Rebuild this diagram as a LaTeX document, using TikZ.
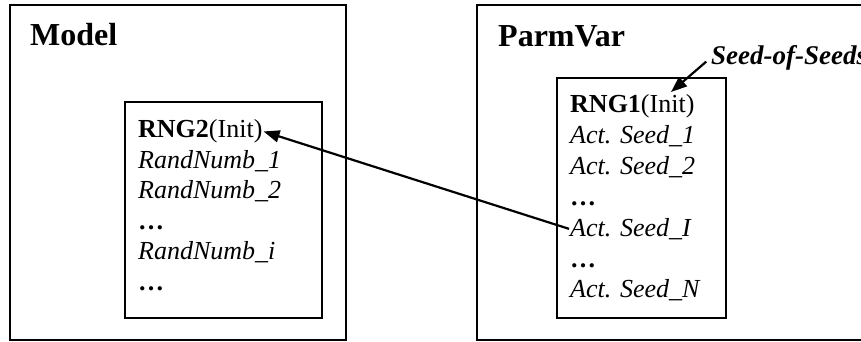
\documentclass[tikz,border=0pt]{standalone}
\usepackage{fontspec}
\setmainfont{Liberation Serif}
\usetikzlibrary{arrows.meta, positioning}

\begin{document}
\begin{tikzpicture}[x=1pt, y=-1pt,
    block/.style={draw, line width=2.2pt, minimum width=#1, inner sep=0pt},
    title/.style={anchor=base west, inner sep=0pt, font=\fontsize{32}{38}\selectfont\bfseries},
    entry/.style={anchor=base west, inner sep=1pt, font=\fontsize{26}{31}\selectfont},
    link/.style={-{Triangle[length=16pt, width=12pt]}, line width=2.2pt}
]
    \useasboundingbox (0,0) rectangle (861,342);

    % outer blocks
    \node[block=336pt, minimum height=335pt] (model) at (178,172.5) {};
    \node[block=408pt, minimum height=335pt] (parmvar) at (681,172.5) {};
    \node[title] (modeltitle) at (30,46) {Model};
    \node[title] (parmtitle) at (498,47) {ParmVar};

    % inner blocks
    \node[block=197pt, minimum height=216pt] (rng2box) at (223.5,210) {};
    \node[block=169pt, minimum height=240pt] (rng1box) at (641.5,198) {};

    % RNG2 entries
    \node[entry] (rng2) at (137,137.7) {\textbf{RNG2}(Init)};
    \node[entry] (rand1) at (137,168.2) {\textit{RandNumb\_1}};
    \node[entry] (rand2) at (137,198.7) {\textit{RandNumb\_2}};
    \node[entry] (rdots1) at (137,229.2) {\textbf{…}};
    \node[entry] (randi) at (137,259.7) {\textit{RandNumb\_i}};
    \node[entry] (rdots2) at (137,290.2) {\textbf{…}};

    % RNG1 entries
    \node[entry] (rng1) at (569,113) {\textbf{RNG1}(Init)};
    \node[entry] (seed1) at (569,143.8) {\textit{Act. Seed\_1}};
    \node[entry] (seed2) at (569,174.6) {\textit{Act. Seed\_2}};
    \node[entry] (sdots1) at (569,205.4) {\textbf{…}};
    \node[entry] (seedI) at (569,236.2) {\textit{Act. Seed\_I}};
    \node[entry] (sdots2) at (569,267) {\textbf{…}};
    \node[entry] (seedN) at (569,297.8) {\textit{Act. Seed\_N}};

    \node[entry, font=\fontsize{27}{32}\selectfont] (seeds) at (710,65) {\textbf{\textit{Seed-of-Seeds}}};
    \coordinate (seedtip) at (671,92);

    \draw[link, shorten <=5pt] (seeds.west) -- (seedtip);
    \draw[link] (seedI.west) -- (rng2.east);
\end{tikzpicture}
\end{document}
